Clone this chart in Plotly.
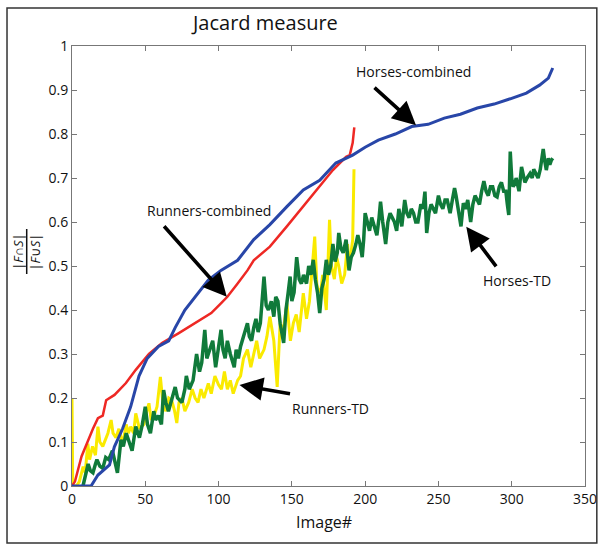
import plotly.graph_objects as go

# ---------------- data ----------------
horses_combined_x = [0, 13, 17.7, 25.6, 28.9, 34.5, 40, 45.7, 51.3, 59, 66, 70.4, 77, 81.6, 93, 101.6,
                     113, 124, 135, 146.6, 157.8, 169, 180, 191.5, 200, 209, 220.6, 231.8, 243, 254,
                     265, 276.5, 288, 299, 310, 319, 325, 328]
horses_combined_y = [0, 0, 0.025, 0.048, 0.089, 0.13, 0.18, 0.25, 0.29, 0.317, 0.33, 0.36, 0.40, 0.42,
                     0.468, 0.49, 0.513, 0.56, 0.594, 0.635, 0.673, 0.695, 0.734, 0.752, 0.77, 0.786,
                     0.80, 0.817, 0.822, 0.836, 0.845, 0.859, 0.868, 0.88, 0.893, 0.911, 0.927, 0.95]

runners_combined_x = [0, 2, 6.5, 11, 14.3, 17.7, 21, 23.3, 29, 36.8, 43.5, 52.5, 61.4, 72.6, 83.9, 95,
                      101.6, 106, 113, 119.7, 124, 135, 146.6, 157.8, 169, 178, 187, 189.5, 191.5, 192.6]
runners_combined_y = [0, 0.01, 0.067, 0.105, 0.13, 0.154, 0.16, 0.195, 0.207, 0.234, 0.264, 0.30, 0.325,
                      0.347, 0.37, 0.393, 0.415, 0.43, 0.46, 0.49, 0.513, 0.544, 0.59, 0.635, 0.68,
                      0.718, 0.748, 0.752, 0.78, 0.815]

runners_td_x = [0, 0.5, 3, 5, 7.6, 9, 10.8, 12, 14, 16, 17.7, 19, 21, 23, 24.5, 26.7, 28, 30, 32, 34.5,
                37, 38.5, 40, 42, 43.5, 46, 49, 51, 52.5, 54, 56, 58, 60.3, 62, 64, 66, 68, 70, 71.5,
                73, 75, 77, 79.6, 82, 84, 86, 88, 90, 93, 95, 97.5, 100, 102, 104, 106, 108, 110, 113,
                115, 117, 119.7, 122, 124, 126, 128, 131, 133, 135, 137.7, 140, 142, 144, 146.6, 149,
                151, 153, 155, 157.8, 160, 162, 163.4, 165.6, 167, 168, 170, 171, 173.5, 175.7, 177,
                179, 180.5, 182, 184, 186, 188, 189, 190, 191.5, 192.4]
runners_td_y = [0.2, 0, 0, 0.01, 0.044, 0.03, 0.096, 0.06, 0.09, 0.07, 0.135, 0.1, 0.09, 0.11, 0.12,
                0.15, 0.12, 0.11, 0.13, 0.095, 0.14, 0.12, 0.135, 0.12, 0.165, 0.13, 0.14, 0.17, 0.188,
                0.15, 0.16, 0.18, 0.248, 0.19, 0.17, 0.2, 0.195, 0.17, 0.143, 0.19, 0.2, 0.17, 0.19,
                0.22, 0.2, 0.19, 0.22, 0.2, 0.233, 0.21, 0.25, 0.23, 0.22, 0.26, 0.22, 0.24, 0.21, 0.24,
                0.25, 0.29, 0.31, 0.27, 0.3, 0.33, 0.29, 0.31, 0.34, 0.385, 0.33, 0.225, 0.37, 0.35,
                0.415, 0.33, 0.37, 0.39, 0.35, 0.438, 0.38, 0.42, 0.476, 0.567, 0.46, 0.44, 0.45, 0.48,
                0.40, 0.605, 0.5, 0.47, 0.52, 0.5, 0.46, 0.48, 0.55, 0.5, 0.52, 0.56, 0.72]

horses_td_x = [7.5, 9, 11, 12.5, 14.3, 16, 17, 19, 21, 23, 25, 27.6, 29, 31, 33.4, 35, 37, 39, 41, 43.5,
               46, 48, 50, 51.5, 53.5, 55.8, 57, 59, 61, 62.5, 64, 65.8, 68, 70.4, 72, 75, 77, 78, 80,
               82.6, 85, 87, 88.5, 90.6, 92, 94, 96, 98, 99.5, 101.7, 103, 104.5, 106, 108, 110.7, 112,
               113.5, 115, 117, 119.7, 121, 122.5, 124, 125.5, 127, 128.5, 131, 132.5, 134, 136, 137.7,
               139, 140.5, 142, 144.4, 146, 147.5, 148.8, 150, 151.5, 153.3, 155, 156.5, 158, 160,
               161.5, 163, 164.6, 166, 167.5, 169, 170.5, 172, 173.5, 175, 176.5, 178, 179.5, 181, 182,
               183.5, 185, 187, 189, 190.5, 192, 193.7, 195, 196.5, 198, 199, 200, 201.5, 203, 204.5,
               206, 208, 209.5, 210.5, 212, 214, 215.5, 217, 218.5, 220, 221.5, 223, 225, 227, 228.5,
               230, 231.5, 233, 234.5, 236, 238, 239.5, 240.8, 242, 243.5, 245, 246.5, 248, 250, 251.5,
               253, 254.5, 256, 258, 259.5, 261, 262, 263, 265.4, 267, 268.5, 270, 272, 273.5, 275,
               276.5, 278, 279.5, 281, 282.5, 284, 285.5, 287, 288.5, 290, 291.5, 293, 294.5, 296, 297,
               298, 299, 300, 301, 302.5, 303, 304.5, 305, 306.7, 308, 309, 310.5, 312.5, 314, 315,
               316.5, 318, 319.5, 321.5, 322.5, 323.6, 325, 326, 327, 328]
horses_td_y = [0.0, 0.02, 0.05, 0.035, 0.03, 0.05, 0.06, 0.045, 0.04, 0.065, 0.06, 0.08, 0.06, 0.03,
               0.105, 0.09, 0.12, 0.1, 0.08, 0.135, 0.11, 0.14, 0.18, 0.14, 0.12, 0.17, 0.15, 0.16, 0.14,
               0.218, 0.19, 0.17, 0.2, 0.225, 0.2, 0.19, 0.22, 0.25, 0.22, 0.24, 0.3, 0.26, 0.28, 0.355,
               0.29, 0.31, 0.33, 0.27, 0.3, 0.355, 0.31, 0.29, 0.33, 0.3, 0.27, 0.31, 0.29, 0.317, 0.34,
               0.37, 0.34, 0.33, 0.36, 0.38, 0.35, 0.37, 0.476, 0.41, 0.4, 0.42, 0.385, 0.43, 0.42, 0.37,
               0.325, 0.4, 0.44, 0.476, 0.42, 0.44, 0.52, 0.47, 0.46, 0.48, 0.46, 0.5, 0.48, 0.514, 0.47,
               0.44, 0.393, 0.45, 0.47, 0.514, 0.48, 0.5, 0.55, 0.51, 0.53, 0.575, 0.54, 0.53, 0.56,
               0.49, 0.52, 0.53, 0.55, 0.57, 0.55, 0.52, 0.56, 0.62, 0.6, 0.58, 0.61, 0.59, 0.57, 0.61,
               0.646, 0.6, 0.55, 0.6, 0.62, 0.61, 0.6, 0.58, 0.63, 0.59, 0.65, 0.62, 0.61, 0.63, 0.62,
               0.6, 0.6, 0.64, 0.63, 0.669, 0.575, 0.62, 0.64, 0.63, 0.62, 0.66, 0.64, 0.63, 0.65, 0.65,
               0.62, 0.65, 0.677, 0.66, 0.64, 0.59, 0.643, 0.63, 0.65, 0.6, 0.64, 0.66, 0.65, 0.64, 0.67,
               0.693, 0.67, 0.66, 0.68, 0.68, 0.66, 0.657, 0.68, 0.69, 0.67, 0.67, 0.64, 0.616, 0.76,
               0.7, 0.68, 0.69, 0.7, 0.68, 0.67, 0.725, 0.7, 0.69, 0.7, 0.71, 0.7, 0.72, 0.71, 0.7, 0.72,
               0.766, 0.74, 0.718, 0.745, 0.73, 0.74, 0.745]

x_ticks = [0, 50, 100, 150, 200, 250, 300, 350]
y_ticks = [0, 0.1, 0.2, 0.3, 0.4, 0.5, 0.6, 0.7, 0.8, 0.9, 1]

title_text = "Jacard measure"
x_title = "Image#"

# annotations: label, text position (data), arrow tip (data), tail offset (px)
labels = [
    ("Horses-combined", 232.7, 0.943, 234.7, 0.820, -43, -39),
    ("Runners-combined", 93.5, 0.627, 105.6, 0.430, -64, -72),
    ("Runners-TD", 176.2, 0.177, 114.3, 0.2295, 52, 9),
    ("Horses-TD", 303.3, 0.466, 269.0, 0.589, 31, 41),
]

# ---------------- figure ----------------
BLUE = "rgb(40,70,168)"
RED = "rgb(238,40,36)"
YELLOW = "rgb(250,234,0)"
GREEN = "rgb(16,122,58)"
FONT = "Open Sans"


def px_x(p):
    return (p - 72) / 521


def px_y(p):
    return (486 - p) / 440


fig = go.Figure()
fig.add_trace(go.Scatter(x=runners_td_x, y=runners_td_y, mode="lines",
                         line=dict(color=YELLOW, width=3), name="Runners-TD"))
fig.add_trace(go.Scatter(x=horses_td_x, y=horses_td_y, mode="lines",
                         line=dict(color=GREEN, width=3.5), name="Horses-TD"))
fig.add_trace(go.Scatter(x=runners_combined_x, y=runners_combined_y, mode="lines",
                         line=dict(color=RED, width=2.5), name="Runners-combined"))
fig.add_trace(go.Scatter(x=horses_combined_x, y=horses_combined_y, mode="lines",
                         line=dict(color=BLUE, width=3), name="Horses-combined"))

annotations = []
for text, tx, ty, ax_, ay_, dx, dy in labels:
    annotations.append(dict(x=tx, y=ty, xref="x", yref="y", text=text, showarrow=False,
                            xanchor="center", yanchor="middle",
                            font=dict(family=FONT, size=14, color="#111")))
    annotations.append(dict(x=ax_, y=ay_, xref="x", yref="y", text="", showarrow=True,
                            ax=dx, ay=dy, arrowhead=2, arrowsize=1.3, arrowwidth=3.6,
                            arrowcolor="black", standoff=0))

# title and axis title
annotations.append(dict(x=px_x(267), y=px_y(22), xref="paper", yref="paper",
                        xanchor="center", yanchor="middle",
                        text=title_text, showarrow=False,
                        font=dict(family=FONT, size=20, color="#111")))
annotations.append(dict(x=px_x(328), y=px_y(522), xref="paper", yref="paper",
                        xanchor="center", yanchor="middle",
                        text=x_title, showarrow=False,
                        font=dict(family=FONT, size=16, color="#111")))
# y-axis label as a rotated fraction
annotations.append(dict(x=px_x(17), y=px_y(252), xref="paper", yref="paper",
                        xanchor="center", yanchor="middle",
                        text="|<i>F</i>∩<i>S</i>|", showarrow=False, textangle=-90,
                        font=dict(family=FONT, size=13, color="#111")))
annotations.append(dict(x=px_x(34), y=px_y(252), xref="paper", yref="paper",
                        xanchor="center", yanchor="middle",
                        text="|<i>F</i>∪<i>S</i>|", showarrow=False, textangle=-90,
                        font=dict(family=FONT, size=13, color="#111")))

shapes = [
    dict(type="line", xref="paper", yref="paper",
         x0=px_x(26), x1=px_x(26), y0=px_y(274), y1=px_y(229),
         line=dict(color="#111", width=1.5)),
    dict(type="rect", xref="paper", yref="paper",
         x0=px_x(6), x1=px_x(605), y0=px_y(543), y1=px_y(8),
         line=dict(color="#333", width=1.5)),
]

axis_common = dict(showline=True, linecolor="#777", linewidth=1, mirror="ticks",
                   ticks="inside", ticklen=5, tickcolor="#777", showgrid=False, zeroline=False,
                   tickfont=dict(family=FONT, size=14, color="#111"))

fig.update_layout(
    width=609, height=547,
    margin=dict(l=72, r=16, t=46, b=61),
    paper_bgcolor="white", plot_bgcolor="white",
    showlegend=False,
    annotations=annotations,
    shapes=shapes,
    xaxis=dict(range=[0, 350], tickvals=x_ticks, ticktext=[str(v) for v in x_ticks], **axis_common),
    yaxis=dict(range=[0, 1], tickvals=y_ticks, ticktext=[f"{v:g}" for v in y_ticks], **axis_common),
)

fig.write_html("out.html", config={"displayModeBar": False},
               post_script="document.body.style.margin='0';")
